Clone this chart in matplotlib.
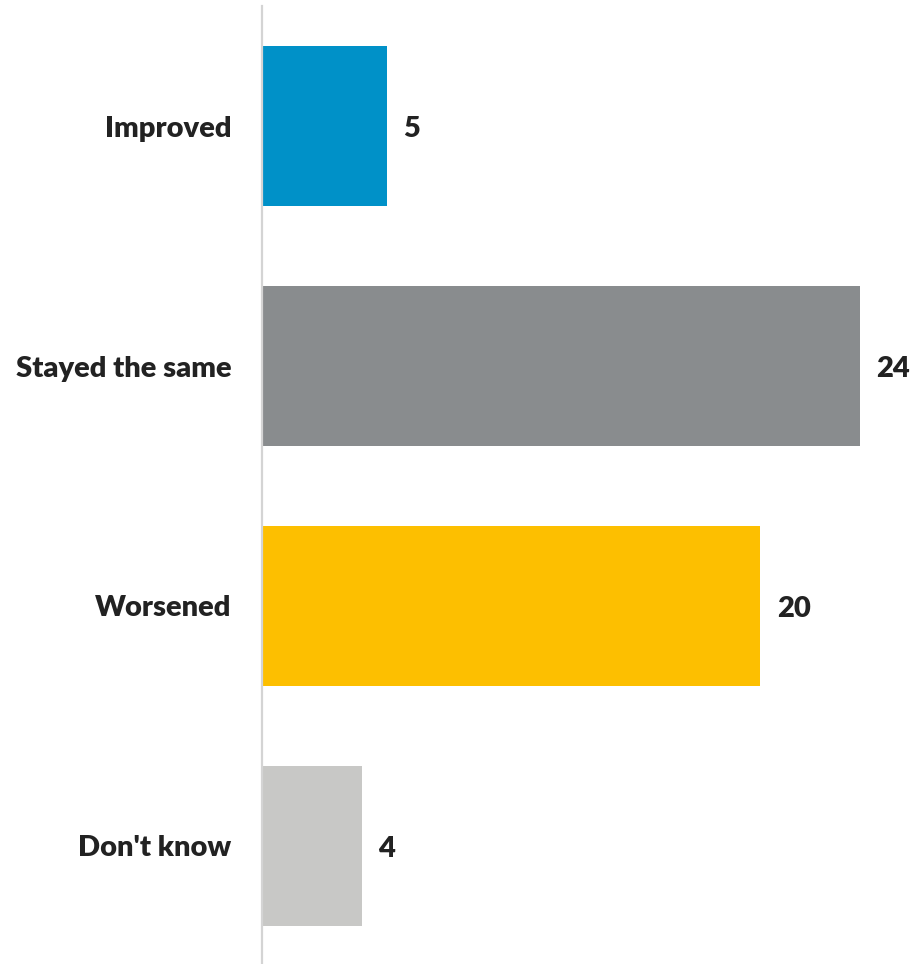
import matplotlib.pyplot as plt

plt.rcParams['font.family'] = ['Lato', 'DejaVu Sans']

categories = ['Improved', 'Stayed the same', 'Worsened', "Don't know"]
values = [5, 24, 20, 4]
colors = ['#0091c8', '#898c8e', '#fdbf00', '#c8c8c6']

fig = plt.figure(figsize=(9.11, 9.64), dpi=100)
ax = fig.add_axes([262 / 911, -2 / 964, 638 / 911, 960 / 964])

ypos = range(len(categories))
ax.barh(ypos, values, height=0.667, color=colors, left=0)

# value labels just past each bar end
for y, v in zip(ypos, values):
    ax.text(v + 0.68, y + 0.012, str(v), va='center', ha='left',
            fontsize=21, fontweight='heavy', color='#222222')

ax.set_xlim(0, 638 / 24.9)
ax.set_ylim(3.5, -0.5)
ax.set_yticks(list(ypos))
ax.set_yticklabels(categories, fontsize=21, fontweight='heavy', color='#222222')
ax.tick_params(axis='y', length=0, pad=22)
ax.set_xticks([])

for side in ['top', 'right', 'bottom']:
    ax.spines[side].set_visible(False)
ax.spines['left'].set_color('#d4d4d4')
ax.spines['left'].set_linewidth(1.6)

fig.savefig('out.png', dpi=100)
